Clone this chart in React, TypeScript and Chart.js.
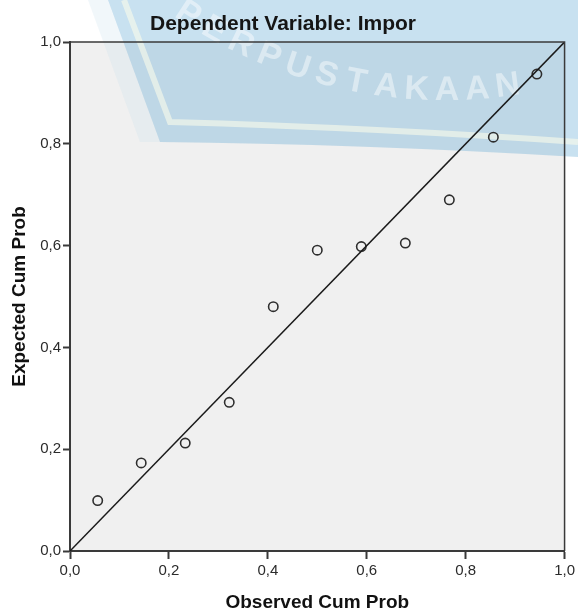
import React, { useEffect, useRef } from "react";
import { Chart, registerables } from "chart.js";

Chart.register(...registerables);

const chartTitle = "Dependent Variable: Impor";
const xAxisTitle = "Observed Cum Prob";
const yAxisTitle = "Expected Cum Prob";

// Normal P-P plot of regression standardized residuals
const observedCumProb = [0.056, 0.144, 0.233, 0.322, 0.411, 0.5, 0.589, 0.678, 0.767, 0.856, 0.944];
const expectedCumProb = [0.099, 0.173, 0.212, 0.292, 0.48, 0.591, 0.598, 0.605, 0.69, 0.813, 0.937];

// 45-degree reference line end points
const referenceX = [0, 1];
const referenceY = [0, 1];

const xTickValues = [0, 0.2, 0.4, 0.6, 0.8, 1.0];
const yTickValues = [0, 0.2, 0.4, 0.6, 0.8, 1.0];

const watermarkText = "PERPUSTAKAAN";

const FONT = "'Liberation Sans', Arial, sans-serif";
const fmt = (v: number) => Number(v).toFixed(1).replace(".", ",");

const backgroundPlugin = {
  id: "bgWatermark",
  beforeDraw(chart: any) {
    const { ctx, chartArea: a } = chart;
    ctx.save();
    ctx.fillStyle = "#ffffff";
    ctx.fillRect(0, 0, chart.width, chart.height);
    ctx.fillStyle = "#f0f0f0";
    ctx.fillRect(a.left, a.top, a.right - a.left, a.bottom - a.top);

    // faint light band left of the logo
    ctx.fillStyle = "rgba(200,222,236,0.25)";
    ctx.beginPath();
    ctx.moveTo(88, 0);
    ctx.lineTo(108, 0);
    ctx.lineTo(160, 142);
    ctx.lineTo(140, 142);
    ctx.closePath();
    ctx.fill();

    // blue watermark body
    ctx.beginPath();
    ctx.moveTo(108, 0);
    ctx.lineTo(578, 0);
    ctx.lineTo(578, 157);
    ctx.quadraticCurveTo(360, 144, 160, 142);
    ctx.closePath();
    ctx.fillStyle = "rgba(97,169,211,0.35)";
    ctx.fill();

    // pale stripes inside the logo
    ctx.strokeStyle = "rgba(255,255,235,0.55)";
    ctx.lineWidth = 6;
    ctx.beginPath();
    ctx.moveTo(124, 0);
    ctx.lineTo(170, 122);
    ctx.quadraticCurveTo(380, 128, 578, 142);
    ctx.stroke();

    // curved watermark text
    ctx.font = `bold 34px ${FONT}`;
    ctx.fillStyle = "rgba(255,255,255,0.45)";
    ctx.textAlign = "center";
    ctx.textBaseline = "alphabetic";
    const cx = 445, cy = -380, r = 480, step = 31;
    const s0 = -184 - 3 * step;
    for (let i = 0; i < watermarkText.length; i++) {
      const phi = (s0 + i * step) / r;
      ctx.save();
      ctx.translate(cx + r * Math.sin(phi), cy + r * Math.cos(phi));
      ctx.rotate(-phi);
      ctx.fillText(watermarkText[i], 0, 0);
      ctx.restore();
    }
    ctx.restore();
  },
  afterDatasetsDraw(chart: any) {
    const { ctx, chartArea: a } = chart;
    ctx.save();
    ctx.strokeStyle = "#3a3a3a";
    ctx.lineWidth = 1.5;
    ctx.beginPath();
    ctx.moveTo(a.left, a.top);
    ctx.lineTo(a.right, a.top);
    ctx.lineTo(a.right, a.bottom);
    ctx.stroke();
    ctx.restore();
  },
};

export default function App() {
  const canvasRef = useRef<HTMLCanvasElement | null>(null);

  useEffect(() => {
    document.body.style.margin = "0";
    const canvas = canvasRef.current;
    if (!canvas) return;

    const points = observedCumProb.map((x, i) => ({ x, y: expectedCumProb[i] }));
    const refLine = referenceX.map((x, i) => ({ x, y: referenceY[i] }));

    const chart = new Chart(canvas, {
      type: "scatter",
      data: {
        datasets: [
          {
            label: "reference",
            data: refLine,
            showLine: true,
            borderColor: "#1a1a1a",
            borderWidth: 1.5,
            pointRadius: 0,
            fill: false,
          },
          {
            label: "points",
            data: points,
            pointStyle: "circle",
            pointRadius: 4.7,
            pointBorderWidth: 1.6,
            pointBorderColor: "#2e2e2e",
            pointBackgroundColor: "rgba(0,0,0,0)",
            showLine: false,
          },
        ],
      },
      options: {
        responsive: false,
        animation: false,
        devicePixelRatio: 1,
        layout: { padding: { top: 0, right: 12, left: 0, bottom: 0 } },
        plugins: {
          legend: { display: false },
          tooltip: { enabled: false },
          title: {
            display: true,
            text: chartTitle,
            color: "#151515",
            font: { family: FONT, size: 21, weight: "bold", lineHeight: 1 },
            padding: { top: 14, bottom: 7 },
          },
        },
        scales: {
          x: {
            type: "linear",
            min: 0,
            max: 1,
            afterBuildTicks: (s: any) => {
              s.ticks = xTickValues.map((v) => ({ value: v }));
            },
            afterFit: (s: any) => {
              s.height = 61;
            },
            ticks: {
              callback: (v: any) => fmt(v),
              color: "#2b2b2b",
              font: { family: FONT, size: 15 },
              padding: 3,
              maxRotation: 0,
              autoSkip: false,
            },
            grid: {
              drawOnChartArea: false,
              drawTicks: true,
              tickLength: 8,
              tickWidth: 2,
              tickColor: "#3a3a3a",
            },
            border: { display: true, color: "#3a3a3a", width: 2 },
            title: {
              display: true,
              text: xAxisTitle,
              color: "#111111",
              font: { family: FONT, size: 19, weight: "bold", lineHeight: 1 },
              padding: { top: 0, bottom: 0 },
            },
          },
          y: {
            type: "linear",
            min: 0,
            max: 1,
            afterBuildTicks: (s: any) => {
              s.ticks = yTickValues.map((v) => ({ value: v }));
            },
            afterFit: (s: any) => {
              s.width = 70;
            },
            ticks: {
              callback: (v: any) => fmt(v),
              color: "#2b2b2b",
              font: { family: FONT, size: 15 },
              padding: 2,
              autoSkip: false,
            },
            grid: {
              drawOnChartArea: false,
              drawTicks: true,
              tickLength: 7,
              tickWidth: 2,
              tickColor: "#3a3a3a",
            },
            border: { display: true, color: "#3a3a3a", width: 2 },
            title: {
              display: true,
              text: yAxisTitle,
              color: "#111111",
              font: { family: FONT, size: 19, weight: "bold", lineHeight: 1 },
              padding: { top: 10, bottom: 0 },
            },
          },
        },
      },
      plugins: [backgroundPlugin],
    } as any);

    return () => {
      chart.destroy();
    };
  }, []);

  return (
    <div style={{ width: 578, height: 612 }}>
      <canvas ref={canvasRef} width={578} height={612} style={{ display: "block" }} />
    </div>
  );
}
